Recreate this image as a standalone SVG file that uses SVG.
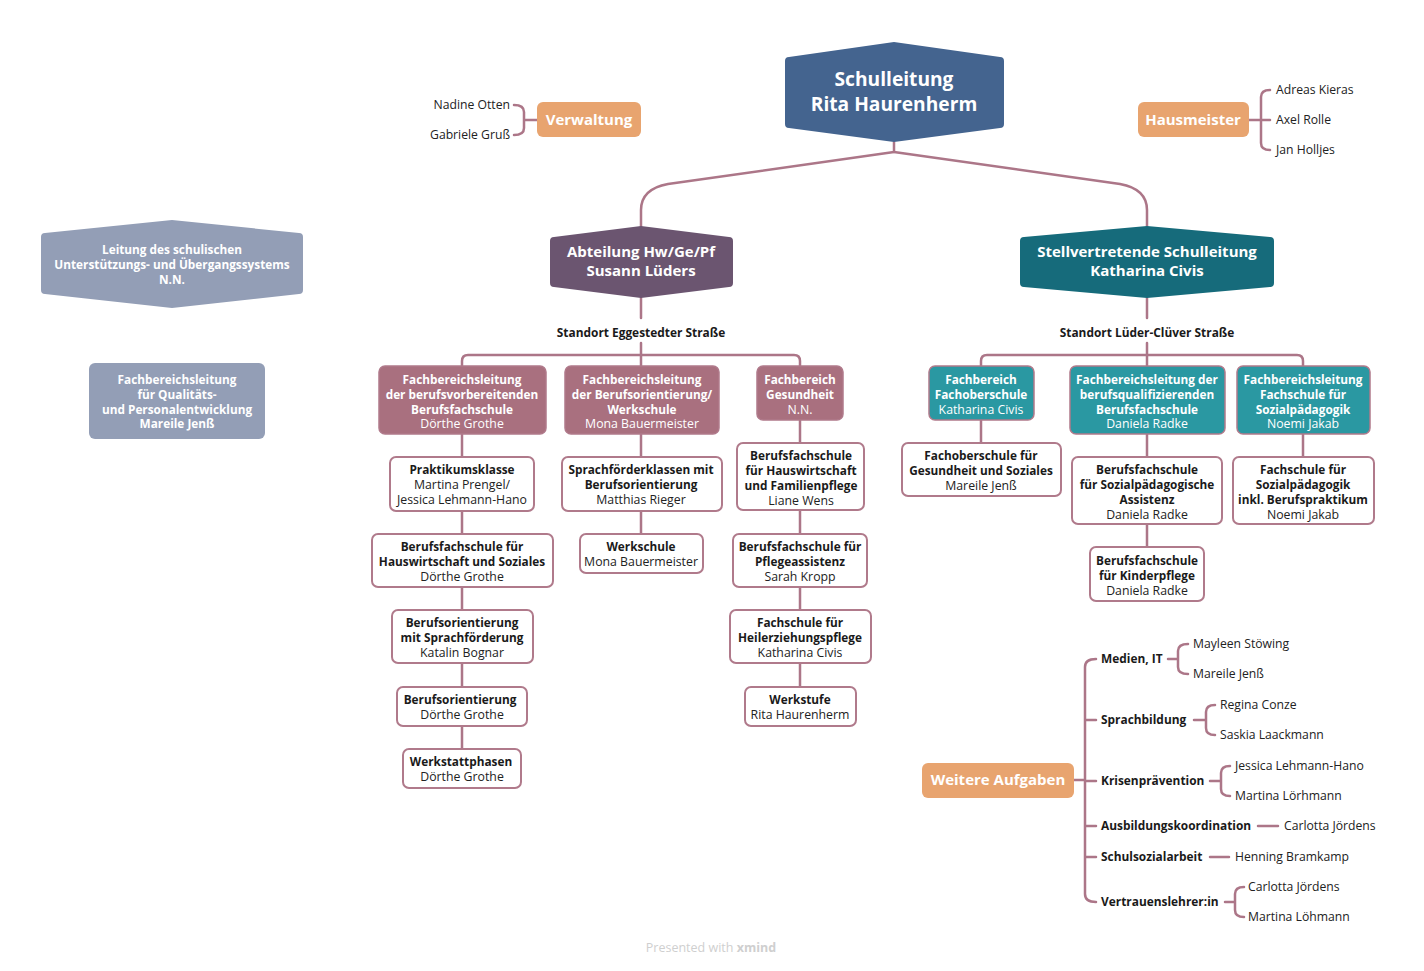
<svg xmlns="http://www.w3.org/2000/svg" width="1424" height="971" viewBox="0 0 1424 971">
<style>
text{font-family:"Open Sans","Noto Sans","Liberation Sans",sans-serif;text-anchor:middle;dominant-baseline:middle;transform:translateY(1.5px)}
.wb{fill:#fff;font-weight:700;font-size:11.8px}
.wr{fill:#fff;font-weight:400;font-size:12.3px}
.kb{fill:#1a1a1a;font-weight:700;font-size:11.8px}
.kr{fill:#222;font-weight:400;font-size:12.3px}
.big{fill:#fff;font-weight:700;font-size:19.2px}
.mid{fill:#fff;font-weight:700;font-size:15px}
.org{fill:#fff;font-weight:700;font-size:15px}
.lab{fill:#1a1a1a;font-weight:700;font-size:11.9px}
.nm{fill:#222;font-size:12.2px;text-anchor:start}
.nmr{fill:#222;font-size:12.2px;text-anchor:end}
.it{fill:#1a1a1a;font-weight:700;font-size:11.9px;text-anchor:start}
.box{fill:#fff;stroke:#b07a8b;stroke-width:2}
.mv{fill:#a9707f;stroke:#b07a8b;stroke-width:1.5}
.tl{fill:#2a98a2;stroke:#b07a8b;stroke-width:1.5}
.gr{fill:#939eb6}
.or{fill:#e8a46f}
.c{fill:none;stroke:#ac7688;stroke-width:2.5;stroke-linecap:round;stroke-linejoin:round}
</style>
<rect width="1424" height="971" fill="#fff"/>
<g id="connectors" class="c">
<path class="c" d="M894,142 V152 L668,184 Q641,189 641,210 V227"/>
<path class="c" d="M894,152 L1120,184 Q1147,189 1147,210 V227"/>
<path class="c" d="M641,298 V318"/>
<path class="c" d="M641,343 V366"/>
<path class="c" d="M462,366 V361 Q462,355 468,355 H794 Q800,355 800,361 V366"/>
<path class="c" d="M1147,298 V318"/>
<path class="c" d="M1147,343 V366"/>
<path class="c" d="M981,366 V361 Q981,355 987,355 H1297 Q1303,355 1303,361 V366"/>
<path class="c" d="M462,434 V457 M462,511 V534 M462,587 V610 M462,663 V687 M462,726 V749"/>
<path class="c" d="M641,434 V457 M641,511 V534"/>
<path class="c" d="M800,420 V443 M800,510 V534 M800,587 V610 M800,663 V687"/>
<path class="c" d="M981,420 V443 M1147,434 V457 M1147,524 V547 M1303,434 V457"/>
<path class="c" d="M537,120 H524 M514,105 Q524,105 524,112 V128 Q524,135 514,135"/>
<path class="c" d="M1249,120 H1270 M1270,90 Q1261,90 1261,97 V143 Q1261,150 1270,150"/>
<path class="c" d="M1074,780 H1085 M1096,659 Q1085,659 1085,667 V894 Q1085,902 1096,902 M1085,720 H1096 M1085,781 H1096 M1085,826 H1096 M1085,857 H1096"/>
<path class="c" d="M1168,659 H1178 M1188,644 Q1178,644 1178,651 V667 Q1178,674 1188,674"/>
<path class="c" d="M1194,720 H1206 M1215,705 Q1206,705 1206,712 V728 Q1206,735 1215,735"/>
<path class="c" d="M1210,781 H1221 M1230,766 Q1221,766 1221,773 V789 Q1221,796 1230,796"/>
<path class="c" d="M1258,826 H1278"/>
<path class="c" d="M1210,857 H1229"/>
<path class="c" d="M1225,902 H1235 M1244,887 Q1235,887 1235,894 V910 Q1235,917 1244,917"/>
</g>
<g id="schulleitung">
<path d="M785,61 Q785,57 789,57 L894,42 L1000,57 Q1004,57 1004,61 V124 Q1004,128 1000,128 L894,142 L789,128 Q785,128 785,124 Z" fill="#44648f"/>
<text class="big" x="894" y="79">Schulleitung</text>
<text class="big" x="894" y="104">Rita Haurenherm</text>
</g>
<g id="verwaltung">
<rect class="or" x="537" y="102" width="104" height="35" rx="6"/>
<text class="org" x="589" y="119">Verwaltung</text>
<text class="nmr" x="510" y="104">Nadine Otten</text>
<text class="nmr" x="510" y="134">Gabriele Gruß</text>
</g>
<g id="hausmeister">
<rect class="or" x="1138" y="102" width="111" height="35" rx="6"/>
<text class="org" x="1193" y="119">Hausmeister</text>
<text class="nm" x="1276" y="89">Adreas Kieras</text>
<text class="nm" x="1276" y="119">Axel Rolle</text>
<text class="nm" x="1276" y="149">Jan Holljes</text>
</g>
<g id="leitung-unterstuetzung">
<path d="M41,237 Q41,233 45,233 L172,220 L299,233 Q303,233 303,237 V290 Q303,294 299,294 L172,308 L45,294 Q41,294 41,290 Z" class="gr"/>
<text class="wb" x="172" y="249">Leitung des schulischen</text>
<text class="wb" x="172" y="264">Unterstützungs- und Übergangssystems</text>
<text class="wb" x="172" y="279">N.N.</text>
</g>
<g id="qualitaet">
<rect class="gr" x="89" y="363" width="176" height="76" rx="6"/>
<text class="wb" x="177" y="379">Fachbereichsleitung</text>
<text class="wb" x="177" y="394">für  Qualitäts-</text>
<text class="wb" x="177" y="409">und Personalentwicklung</text>
<text class="wb" x="177" y="423">Mareile Jenß</text>
</g>
<g id="abteilung">
<path d="M550,241 Q550,237 554,237 L641,226 L729,237 Q733,237 733,241 V283 Q733,287 729,287 L641,298 L554,287 Q550,287 550,283 Z" fill="#6b5570"/>
<text class="mid" x="641" y="251">Abteilung Hw/Ge/Pf</text>
<text class="mid" x="641" y="270">Susann Lüders</text>
</g>
<g id="stellvertretung">
<path d="M1020,241 Q1020,237 1024,237 L1147,226 L1270,237 Q1274,237 1274,241 V283 Q1274,287 1270,287 L1147,298 L1024,287 Q1020,287 1020,283 Z" fill="#166b7b"/>
<text class="mid" x="1147" y="251">Stellvertretende Schulleitung</text>
<text class="mid" x="1147" y="270">Katharina Civis</text>
</g>
<g id="standort-eggestedter">
<text class="lab" x="641" y="332">Standort Eggestedter Straße</text>
</g>
<g id="standort-lueder">
<text class="lab" x="1147" y="332">Standort Lüder-Clüver Straße</text>
</g>
<g id="fbl-berufsvorbereitend">
<rect class="mv" x="379" y="366" width="167" height="68" rx="6"/>
<text class="wb" x="462" y="379">Fachbereichsleitung</text>
<text class="wb" x="462" y="394">der berufsvorbereitenden</text>
<text class="wb" x="462" y="409">Berufsfachschule</text>
<text class="wr" x="462" y="423">Dörthe Grothe</text>
</g>
<g id="fbl-berufsorientierung">
<rect class="mv" x="565" y="366" width="154" height="68" rx="6"/>
<text class="wb" x="642" y="379">Fachbereichsleitung</text>
<text class="wb" x="642" y="394">der Berufsorientierung/</text>
<text class="wb" x="642" y="409">Werkschule</text>
<text class="wr" x="642" y="423">Mona Bauermeister</text>
</g>
<g id="fb-gesundheit">
<rect class="mv" x="757" y="366" width="86" height="54" rx="6"/>
<text class="wb" x="800" y="379">Fachbereich</text>
<text class="wb" x="800" y="394">Gesundheit</text>
<text class="wr" x="800" y="409">N.N.</text>
</g>
<g id="praktikumsklasse">
<rect class="box" x="390" y="457" width="144" height="54" rx="6"/>
<text class="kb" x="462" y="469">Praktikumsklasse</text>
<text class="kr" x="462" y="484">Martina Prengel/</text>
<text class="kr" x="462" y="499">Jessica Lehmann-Hano</text>
</g>
<g id="bfs-hauswirtschaft-soziales">
<rect class="box" x="372" y="534" width="181" height="53" rx="6"/>
<text class="kb" x="462" y="546">Berufsfachschule für</text>
<text class="kb" x="462" y="561">Hauswirtschaft und Soziales</text>
<text class="kr" x="462" y="576">Dörthe Grothe</text>
</g>
<g id="bo-sprachfoerderung">
<rect class="box" x="392" y="610" width="141" height="53" rx="6"/>
<text class="kb" x="462" y="622">Berufsorientierung</text>
<text class="kb" x="462" y="637">mit Sprachförderung</text>
<text class="kr" x="462" y="652">Katalin Bognar</text>
</g>
<g id="berufsorientierung">
<rect class="box" x="397" y="687" width="130" height="39" rx="6"/>
<text class="kb" x="460" y="699">Berufsorientierung</text>
<text class="kr" x="462" y="714">Dörthe Grothe</text>
</g>
<g id="werkstattphasen">
<rect class="box" x="403" y="749" width="118" height="39" rx="6"/>
<text class="kb" x="461" y="761">Werkstattphasen</text>
<text class="kr" x="462" y="776">Dörthe Grothe</text>
</g>
<g id="sprachfoerderklassen">
<rect class="box" x="562" y="457" width="160" height="54" rx="6"/>
<text class="kb" x="641" y="469">Sprachförderklassen mit</text>
<text class="kb" x="641" y="484">Berufsorientierung</text>
<text class="kr" x="641" y="499">Matthias Rieger</text>
</g>
<g id="werkschule">
<rect class="box" x="580" y="534" width="123" height="39" rx="6"/>
<text class="kb" x="641" y="546">Werkschule</text>
<text class="kr" x="641" y="561">Mona Bauermeister</text>
</g>
<g id="bfs-hauswirtschaft-familienpflege">
<rect class="box" x="737" y="443" width="127" height="67" rx="6"/>
<text class="kb" x="801" y="455">Berufsfachschule</text>
<text class="kb" x="801" y="470">für Hauswirtschaft</text>
<text class="kb" x="801" y="485">und Familienpflege</text>
<text class="kr" x="801" y="500">Liane Wens</text>
</g>
<g id="bfs-pflegeassistenz">
<rect class="box" x="733" y="534" width="134" height="53" rx="6"/>
<text class="kb" x="800" y="546">Berufsfachschule für</text>
<text class="kb" x="800" y="561">Pflegeassistenz</text>
<text class="kr" x="800" y="576">Sarah Kropp</text>
</g>
<g id="fs-heilerziehungspflege">
<rect class="box" x="730" y="610" width="141" height="53" rx="6"/>
<text class="kb" x="800" y="622">Fachschule für</text>
<text class="kb" x="800" y="637">Heilerziehungspflege</text>
<text class="kr" x="800" y="652">Katharina Civis</text>
</g>
<g id="werkstufe">
<rect class="box" x="745" y="687" width="111" height="39" rx="6"/>
<text class="kb" x="800" y="699">Werkstufe</text>
<text class="kr" x="800" y="714">Rita Haurenherm</text>
</g>
<g id="fb-fachoberschule">
<rect class="tl" x="929" y="366" width="105" height="54" rx="6"/>
<text class="wb" x="981" y="379">Fachbereich</text>
<text class="wb" x="981" y="394">Fachoberschule</text>
<text class="wr" x="981" y="409">Katharina Civis</text>
</g>
<g id="fbl-berufsqualifizierend">
<rect class="tl" x="1070" y="366" width="155" height="68" rx="6"/>
<text class="wb" x="1147" y="379">Fachbereichsleitung der</text>
<text class="wb" x="1147" y="394">berufsqualifizierenden</text>
<text class="wb" x="1147" y="409">Berufsfachschule</text>
<text class="wr" x="1147" y="423">Daniela Radke</text>
</g>
<g id="fbl-sozialpaedagogik">
<rect class="tl" x="1237" y="366" width="133" height="68" rx="6"/>
<text class="wb" x="1303" y="379">Fachbereichsleitung</text>
<text class="wb" x="1303" y="394">Fachschule für</text>
<text class="wb" x="1303" y="409">Sozialpädagogik</text>
<text class="wr" x="1303" y="423">Noemi Jakab</text>
</g>
<g id="fos-gesundheit-soziales">
<rect class="box" x="902" y="443" width="159" height="53" rx="6"/>
<text class="kb" x="981" y="455">Fachoberschule für</text>
<text class="kb" x="981" y="470">Gesundheit und Soziales</text>
<text class="kr" x="981" y="485">Mareile Jenß</text>
</g>
<g id="bfs-sozialpaed-assistenz">
<rect class="box" x="1072" y="457" width="150" height="67" rx="6"/>
<text class="kb" x="1147" y="469">Berufsfachschule</text>
<text class="kb" x="1147" y="484">für Sozialpädagogische</text>
<text class="kb" x="1147" y="499">Assistenz</text>
<text class="kr" x="1147" y="514">Daniela Radke</text>
</g>
<g id="fs-sozialpaedagogik">
<rect class="box" x="1233" y="457" width="141" height="67" rx="6"/>
<text class="kb" x="1303" y="469">Fachschule für</text>
<text class="kb" x="1303" y="484">Sozialpädagogik</text>
<text class="kb" x="1303" y="499">inkl. Berufspraktikum</text>
<text class="kr" x="1303" y="514">Noemi Jakab</text>
</g>
<g id="bfs-kinderpflege">
<rect class="box" x="1090" y="547" width="114" height="54" rx="6"/>
<text class="kb" x="1147" y="560">Berufsfachschule</text>
<text class="kb" x="1147" y="575">für Kinderpflege</text>
<text class="kr" x="1147" y="590">Daniela Radke</text>
</g>
<g id="weitere-aufgaben">
<rect class="or" x="922" y="763" width="152" height="35" rx="6"/>
<text class="org" x="998" y="779">Weitere Aufgaben</text>
</g>
<g id="aufgaben-items">
<text class="it" x="1101" y="658">Medien, IT</text>
<text class="it" x="1101" y="719">Sprachbildung</text>
<text class="it" x="1101" y="780">Krisenprävention</text>
<text class="it" x="1101" y="825">Ausbildungskoordination</text>
<text class="it" x="1101" y="856">Schulsozialarbeit</text>
<text class="it" x="1101" y="901">Vertrauenslehrer:in</text>
</g>
<g id="aufgaben-namen">
<text class="nm" x="1193" y="643">Mayleen Stöwing</text>
<text class="nm" x="1193" y="673">Mareile Jenß</text>
<text class="nm" x="1220" y="704">Regina Conze</text>
<text class="nm" x="1220" y="734">Saskia Laackmann</text>
<text class="nm" x="1235" y="765">Jessica Lehmann-Hano</text>
<text class="nm" x="1235" y="795">Martina Lörhmann</text>
<text class="nm" x="1284" y="825">Carlotta Jördens</text>
<text class="nm" x="1235" y="856">Henning Bramkamp</text>
<text class="nm" x="1248" y="886">Carlotta Jördens</text>
<text class="nm" x="1248" y="916">Martina Löhmann</text>
</g>
<g id="footer">
<text x="711" y="947" style="fill:#cfcfcf;font-size:12.5px">Presented with <tspan style="font-weight:700">xmind</tspan></text>
</g>
</svg>
